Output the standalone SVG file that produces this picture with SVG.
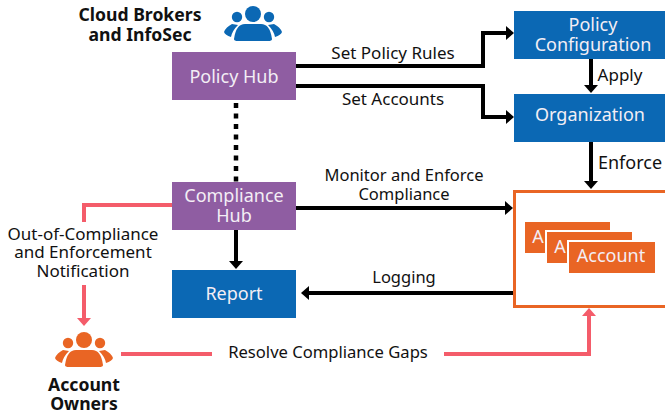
<svg xmlns="http://www.w3.org/2000/svg" width="665" height="415" viewBox="0 0 665 415">
<style>
text{font-family:"Noto Sans","Open Sans","Liberation Sans",sans-serif;text-anchor:middle}
.lb{font-size:17px;fill:#111}
.bd{font-size:17.6px;font-weight:700;fill:#111}
.nt{font-size:18px;fill:#f3eef5}
.blue{fill:#0b68b4}.purple{fill:#8f5da2}.orange{fill:#e96524}
.k{fill:none;stroke:#000;stroke-width:4}
.r{fill:none;stroke:#f45c6a;stroke-width:4}
</style>
<defs>
<marker id="ak" markerUnits="userSpaceOnUse" markerWidth="12" markerHeight="16" refX="5" refY="7" orient="auto"><path d="M0 0L8 7L0 14Z" fill="#000"/></marker>
<marker id="ar" markerUnits="userSpaceOnUse" markerWidth="12" markerHeight="16" refX="4" refY="7" orient="auto"><path d="M0 0L8 7L0 14Z" fill="#f45c6a"/></marker>
<g id="people">
<circle cx="0" cy="-13" r="8"/><circle cx="-16" cy="-10" r="5.2"/><circle cx="16" cy="-10" r="5.2"/>
<path d="M-19 12Q-17 -3 -8 -3H8Q17 -3 19 12Q19 14 15 14H-15Q-19 14 -19 12Z"/>
<path d="M-21 -3L-15 -2Q-21 4 -22 10Q-28 8 -29 5Q-27 0 -21 -3Z"/>
<path d="M21 -3L15 -2Q21 4 22 10Q28 8 29 5Q27 0 21 -3Z"/>
</g>
</defs>
<g id="connectors">
<path class="k" d="M296 66H483V33H511" marker-end="url(#ak)"/>
<path class="k" d="M296 86H483V117H511" marker-end="url(#ak)"/>
<path class="k" d="M591 58V90" marker-end="url(#ak)"/>
<path class="k" d="M591 142V186" marker-end="url(#ak)"/>
<path class="k" d="M296 208H510" marker-end="url(#ak)"/>
<path class="k" d="M513 293H304" marker-end="url(#ak)"/>
<path class="k" d="M236 230V266" marker-end="url(#ak)"/>
<path d="M236 103V182" fill="none" stroke="#000" stroke-width="4.5" stroke-dasharray="5 5.5"/>
<path class="r" d="M172 205H84V222"/>
<path class="r" d="M84 285V322" marker-end="url(#ar)"/>
<path class="r" d="M121 354H212"/>
<path class="r" d="M444 354H589V312" marker-end="url(#ar)"/>
</g>
<g id="brokers">
<use href="#people" x="253" y="27" class="blue"/>
<text class="bd" x="140" y="21">Cloud Brokers</text>
<text class="bd" x="140" y="41">and InfoSec</text>
</g>
<g id="policy-hub"><rect class="purple" x="172" y="52" width="124" height="48"/><text class="nt" x="234" y="83">Policy Hub</text></g>
<g id="compliance-hub"><rect class="purple" x="172" y="182" width="124" height="48"/><text class="nt" x="234" y="202">Compliance</text><text class="nt" x="234" y="222">Hub</text></g>
<g id="report"><rect class="blue" x="172" y="270" width="124" height="48"/><text class="nt" x="234" y="300">Report</text></g>
<g id="policy-configuration"><rect class="blue" x="514" y="11" width="151" height="48"/><text class="nt" x="593" y="31">Policy</text><text class="nt" x="593" y="51">Configuration</text></g>
<g id="organization"><rect class="blue" x="514" y="94" width="151" height="48"/><text class="nt" x="590" y="121">Organization</text></g>
<g id="accounts">
<rect x="514.500" y="191.500" width="152" height="115" fill="#fff" stroke="#e96524" stroke-width="3"/>
<rect class="orange" x="525" y="222" width="85" height="31"/><text class="nt" x="538" y="243">A</text>
<rect x="545" y="230" width="89" height="35" fill="#fff"/>
<rect class="orange" x="547" y="232" width="85" height="31"/><text class="nt" x="560" y="253">A</text>
<rect x="567" y="240" width="90" height="35" fill="#fff"/>
<rect class="orange" x="569" y="242" width="86" height="31"/><text class="nt" x="611" y="262">Account</text>
</g>
<g id="owners">
<use href="#people" x="84" y="353" class="orange"/>
<text class="bd" x="84" y="391">Account</text>
<text class="bd" x="84" y="410">Owners</text>
</g>
<g id="labels">
<text class="lb" x="393" y="59">Set Policy Rules</text>
<text class="lb" x="393" y="105">Set Accounts</text>
<text class="lb" x="620" y="81">Apply</text>
<text class="lb" x="630" y="169" style="font-size:18px">Enforce</text>
<text class="lb" x="404" y="181" style="font-size:16.500px">Monitor and Enforce</text>
<text class="lb" x="404" y="200" style="font-size:16.500px">Compliance</text>
<text class="lb" x="404" y="283" style="font-size:16.500px">Logging</text>
<text class="lb" x="83" y="240">Out-of-Compliance</text>
<text class="lb" x="83" y="258">and Enforcement</text>
<text class="lb" x="83" y="277">Notification</text>
<text class="lb" x="328" y="358" style="font-size:16.600px">Resolve Compliance Gaps</text>
</g>
</svg>
